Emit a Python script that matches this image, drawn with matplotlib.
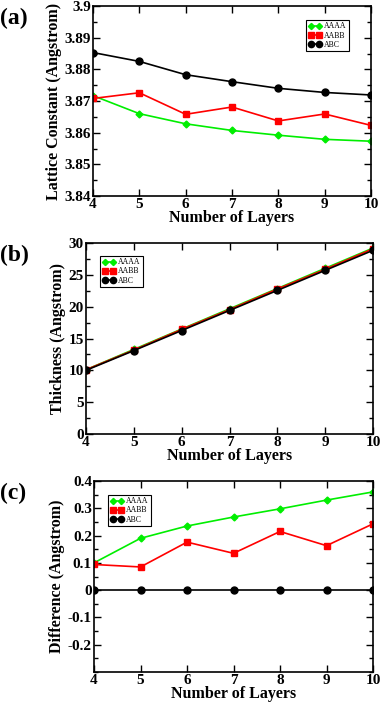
import numpy as np
import matplotlib
matplotlib.use("Agg")
import matplotlib.pyplot as plt
from matplotlib import font_manager
from matplotlib.ticker import MultipleLocator, FixedLocator

# Numero di strati
layers = [4, 5, 6, 7, 8, 9, 10]
stacking = ["AAAA", "AABB", "ABC"]

# (a) costante reticolare
lattice_aaaa = [3.8717, 3.8660, 3.8628, 3.8607, 3.8592, 3.8579, 3.8573]
lattice_aabb = [3.8708, 3.8726, 3.8658, 3.8681, 3.8637, 3.8659, 3.8623]
lattice_abc = [3.8853, 3.8825, 3.8783, 3.8761, 3.8740, 3.8727, 3.8719]

# (c) differenza rispetto ad ABC
diff_aaaa = [0.100, 0.190, 0.235, 0.268, 0.298, 0.330, 0.360]
diff_aabb = [0.094, 0.085, 0.176, 0.135, 0.215, 0.163, 0.243]
diff_abc = [0, 0, 0, 0, 0, 0, 0]

# (b) spessore
thick_abc = [10.0, 13.1, 16.25, 19.4, 22.55, 25.7, 28.85]
thick_aaaa = list(np.array(thick_abc) + np.array(diff_aaaa))
thick_aabb = list(np.array(thick_abc) + np.array(diff_aabb))

colors = ["#00ee00", "#ff0000", "#000000"]
markers = ["D", "s", "o"]
msizes = [3.5, 4.5, 5]

bold = font_manager.FontProperties(family='Liberation Serif', weight='bold', size=11)
lab = font_manager.FontProperties(family='Liberation Serif', weight='bold', size=11.5)
tagf = font_manager.FontProperties(family='Liberation Serif', weight='bold', size=17)
legf = font_manager.FontProperties(family='Liberation Serif', weight='normal', size=5.6)

matplotlib.rc('axes', linewidth=1.2)

fig = plt.figure(figsize=(3.82, 7.02), dpi=100)

def pannello(rect, series, ylim, ymin, ylabel, yticks, ylabels, leg_loc, tag):
	ax = fig.add_axes(rect)
	for s, c, m, ms, name in zip(series, colors, markers, msizes, stacking):
		ax.plot(layers, s, color=c, marker=m, markersize=ms, lw=1.2, label=name)
	ax.set_xlim(4, 10)
	ax.set_ylim(*ylim)
	ax.xaxis.set_major_locator(FixedLocator(layers))
	ax.yaxis.set_major_locator(FixedLocator(yticks))
	ax.yaxis.set_minor_locator(MultipleLocator(ymin))
	ax.set_xticklabels([str(l) for l in layers], fontproperties=bold)
	ax.set_yticklabels(ylabels, fontproperties=bold)
	ax.tick_params(which='both', direction='in', top=True, right=True, width=1)
	ax.tick_params(which='major', length=5, pad=1.5)
	ax.tick_params(which='minor', length=3)
	ax.set_xlabel("Number of Layers", fontproperties=lab, labelpad=-1)
	ax.set_ylabel(ylabel, fontproperties=lab, labelpad=2)
	lg = ax.legend(loc='upper left', bbox_to_anchor=leg_loc, prop=legf,
		numpoints=2, handlelength=1.7, handletextpad=0.3, borderpad=0.3,
		borderaxespad=0, labelspacing=0.15, markerscale=0.9,
		fancybox=False, edgecolor='black', framealpha=1)
	lg.get_frame().set_linewidth(0.8)
	fig.text(0.0, rect[1] + rect[3] - 0.002, tag, fontproperties=tagf, va='top')
	return ax

H = 702.0
W = 382.0
pannello([93/W, 1 - 196/H, (371-93)/W, (196-6)/H],
	[lattice_aaaa, lattice_aabb, lattice_abc], (3.84, 3.9), 0.005,
	"Lattice Constant (Angstrom)", [3.84, 3.85, 3.86, 3.87, 3.88, 3.89, 3.9],
	["3.84", "3.85", "3.86", "3.87", "3.88", "3.89", "3.9"],
	(0.766, 0.926), "(a)")

pannello([86/W, 1 - 434/H, (373-86)/W, (434-243)/H],
	[thick_aaaa, thick_aabb, thick_abc], (0, 30), 2.5,
	"Thickness (Angstrom)", [0, 5, 10, 15, 20, 25, 30],
	["0", "5", "10", "15", "20", "25", "30"],
	(0.049, 0.932), "(b)")

pannello([94/W, 1 - 672/H, (373-94)/W, (672-481)/H],
	[diff_aaaa, diff_aabb, diff_abc], (-0.3, 0.4), 0.05,
	"Difference (Angstrom)", [-0.2, -0.1, 0, 0.1, 0.2, 0.3, 0.4],
	["-0.2", "-0.1", "0", "0.1", "0.2", "0.3", "0.4"],
	(0.05, 0.927), "(c)")

fig.savefig("out.png", dpi=100)
